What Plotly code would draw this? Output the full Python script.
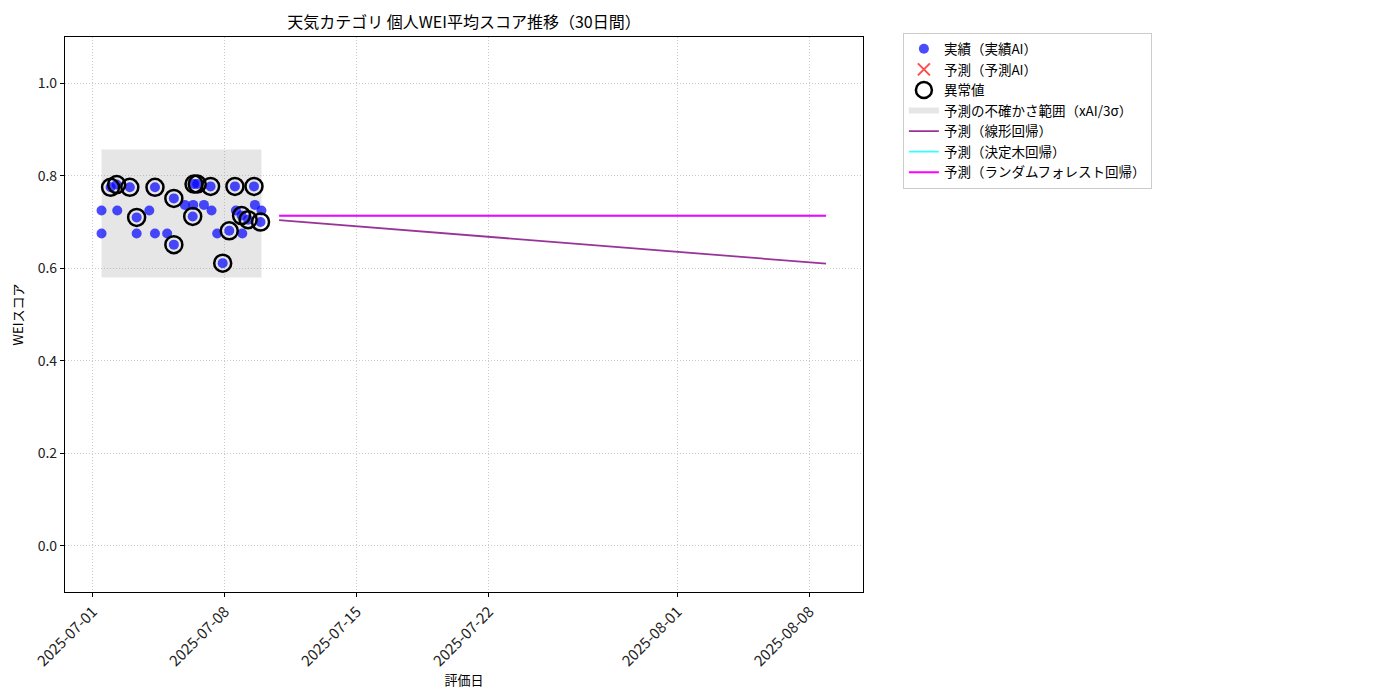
#! /usr/bin/env python3

import plotly.graph_objects as go

# 実績（実績AI）
actual_dates = [
    "2025-07-01 11:00", "2025-07-01 11:00", "2025-07-02 07:00", "2025-07-03 07:40",
    "2025-07-03 23:45", "2025-07-04 07:00", "2025-07-04 22:30", "2025-07-05 21:00",
    "2025-07-06 07:40", "2025-07-06 21:20", "2025-07-07 07:00", "2025-07-07 14:10",
    "2025-07-08 14:00", "2025-07-08 22:05", "2025-07-09 14:10", "2025-07-09 22:30",
]
actual_scores = [
    0.725, 0.675, 0.725, 0.675,
    0.725, 0.675, 0.675, 0.737,
    0.737, 0.737, 0.725, 0.675,
    0.725, 0.675, 0.737, 0.725,
]

# 異常値 (also part of the actual series)
outlier_dates = [
    "2025-07-01 22:30", "2025-07-02 06:15", "2025-07-02 23:00", "2025-07-03 07:40",
    "2025-07-04 07:00", "2025-07-05 07:00", "2025-07-05 07:00", "2025-07-06 07:00",
    "2025-07-06 08:40", "2025-07-06 12:45", "2025-07-07 05:45", "2025-07-07 21:10",
    "2025-07-08 05:30", "2025-07-08 12:45", "2025-07-08 21:10", "2025-07-09 05:30",
    "2025-07-09 13:00", "2025-07-09 21:20",
]
outlier_scores = [
    0.775, 0.781, 0.775, 0.710,
    0.775, 0.751, 0.651, 0.712,
    0.782, 0.782, 0.777, 0.611,
    0.681, 0.777, 0.714, 0.705,
    0.777, 0.700,
]

# 予測（予測AI） - no values in this window
pred_ai_dates = [None]
pred_ai_scores = [None]

# 予測の不確かさ範囲
band_dates = ["2025-07-01 11:00", "2025-07-09 22:30"]
band_low = [0.580, 0.580]
band_high = [0.857, 0.857]

# model forecasts (30 days)
forecast_dates = ["2025-07-10 21:00", "2025-08-08 21:00"]
linear_pred = [0.704, 0.610]
tree_pred = [0.7137, 0.7137]
forest_pred = [0.7137, 0.7137]

x_ticks = ["2025-07-01", "2025-07-08", "2025-07-15", "2025-07-22", "2025-08-01", "2025-08-08"]

FONT = "Noto Sans CJK JP, Noto Sans, sans-serif"

fig = go.Figure()

fig.add_trace(go.Scatter(
    x=band_dates + band_dates[::-1], y=band_high + band_low[::-1],
    fill="toself", fillcolor="rgba(128,128,128,0.2)", mode="none",
    line=dict(width=0), name="予測の不確かさ範囲（xAI/3σ）", legendrank=4,
))

all_dates = actual_dates + outlier_dates
all_scores = actual_scores + outlier_scores
fig.add_trace(go.Scatter(
    x=all_dates, y=all_scores, mode="markers",
    marker=dict(color="rgba(0,0,255,0.7)", size=10, line=dict(width=0)),
    name="実績（実績AI）", legendrank=1,
))
fig.add_trace(go.Scatter(
    x=pred_ai_dates, y=pred_ai_scores, mode="markers",
    marker=dict(color="rgba(255,0,0,0.7)", size=12, symbol="x-thin",
                line=dict(width=2, color="rgba(255,0,0,0.7)")),
    name="予測（予測AI）", legendrank=2,
))
fig.add_trace(go.Scatter(
    x=outlier_dates, y=outlier_scores, mode="markers",
    marker=dict(color="black", size=17, symbol="circle-open",
                line=dict(width=2.5, color="black")),
    name="異常値", legendrank=3,
))

fig.add_trace(go.Scatter(
    x=forecast_dates, y=linear_pred, mode="lines",
    line=dict(color="rgba(128,0,128,0.8)", width=1.8),
    name="予測（線形回帰）", legendrank=5,
))
fig.add_trace(go.Scatter(
    x=forecast_dates, y=tree_pred, mode="lines",
    line=dict(color="rgba(0,255,255,0.8)", width=1.8),
    name="予測（決定木回帰）", legendrank=6,
))
fig.add_trace(go.Scatter(
    x=forecast_dates, y=forest_pred, mode="lines",
    line=dict(color="#ff00ff", width=2),
    name="予測（ランダムフォレスト回帰）", legendrank=7,
))

axis_common = dict(
    showline=True, linecolor="black", linewidth=1.2, mirror=True,
    ticks="outside", ticklen=4, tickcolor="black", automargin=False,
    showgrid=True, gridcolor="rgba(190,190,190,0.8)", griddash="1px,2px", gridwidth=1,
    zeroline=False,
)

fig.update_xaxes(
    type="date", range=["2025-06-29 12:30", "2025-08-10 20:00"],
    tickvals=x_ticks, ticktext=x_ticks, tickangle=-45,
    tickfont=dict(size=15, color="#222222"),
    title=dict(text="評価日", font=dict(size=13, color="black"), standoff=0),
    **axis_common,
)
fig.update_yaxes(
    range=[-0.1, 1.1], tickvals=[0.0, 0.2, 0.4, 0.6, 0.8, 1.0], tickformat=".1f",
    tickfont=dict(size=14, color="#222222"),
    title=dict(text="WEIスコア", font=dict(size=13, color="black"), standoff=12),
    **axis_common,
)

fig.update_layout(
    width=1400, height=700,
    margin=dict(l=57, r=545, t=29, b=116),
    paper_bgcolor="white", plot_bgcolor="white",
    font=dict(family=FONT, color="black"),
    title=dict(text="天気カテゴリ 個人WEI平均スコア推移（30日間）", x=(57 + 399) / 1400,
               xanchor="center", y=1 - 14 / 700, yanchor="middle", font=dict(size=16)),
    legend=dict(x=1.05, y=1.008, xanchor="left", yanchor="top",
                bordercolor="#cccccc", borderwidth=1, bgcolor="white",
                font=dict(size=13.5), tracegroupgap=0),
    showlegend=True,
)

fig.write_html("out.html")
